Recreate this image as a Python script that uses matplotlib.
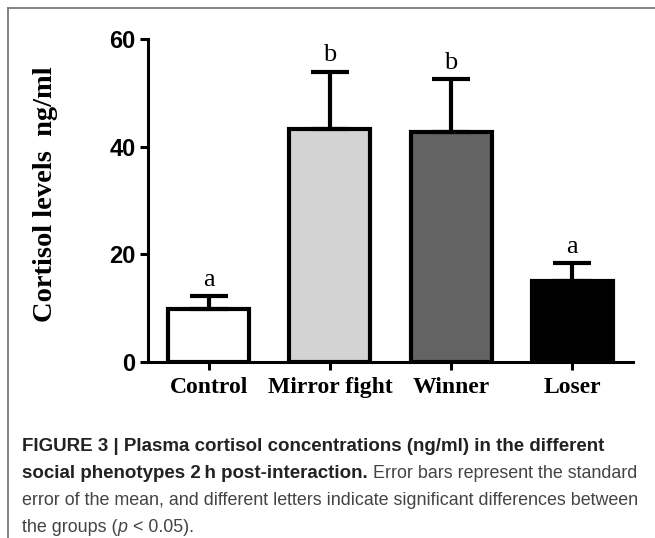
import numpy as np
import matplotlib
matplotlib.use('Agg')
import matplotlib.pyplot as plt

# Data
groups = ['Control', 'Mirror fight', 'Winner', 'Loser']
means = [9.8, 43.3, 42.8, 15.0]
sems = [2.4, 10.6, 9.7, 3.3]
letters = ['a', 'b', 'b', 'a']
bar_colors = ['white', '#d3d3d3', '#636363', 'black']
yticks = [0, 20, 40, 60]

fig = plt.figure(figsize=(6.55, 5.38), dpi=100)

# light grey frame around the figure panel
fig.add_artist(plt.Line2D([8 / 655, 8 / 655], [0, 1 - 8 / 538], transform=fig.transFigure,
                          color='#7a7a7a', lw=1.3))
fig.add_artist(plt.Line2D([8 / 655, 1], [1 - 8 / 538, 1 - 8 / 538], transform=fig.transFigure,
                          color='#7a7a7a', lw=1.3))

ax = fig.add_axes([148 / 655, 1 - 362 / 538, 485 / 655, 323 / 538])
x = np.arange(len(groups))

ax.bar(x, means, width=0.67, color=bar_colors, edgecolor='black', linewidth=3, zorder=2)
ax.errorbar(x, means, yerr=[np.zeros(len(sems)), sems], fmt='none', ecolor='black',
            elinewidth=3, capsize=14, capthick=3, zorder=3)

for xi, m, s, lab in zip(x, means, sems, letters):
    ax.annotate(lab, (xi, m + s), xytext=(0, 4), textcoords='offset points',
                ha='center', va='bottom', fontsize=19, family='Liberation Serif')

ax.set_xlim(-0.5, 3.5)
ax.set_ylim(0, 60)
ax.set_yticks(yticks)
ax.set_xticks(x)
ax.set_xticklabels(groups, fontsize=17, fontweight='bold', family='Liberation Serif')
for t in ax.get_yticklabels():
    t.set_fontsize(17)
    t.set_fontweight('bold')
    t.set_family('Liberation Sans')

for side in ['top', 'right']:
    ax.spines[side].set_visible(False)
for side in ['left', 'bottom']:
    ax.spines[side].set_linewidth(2.2)
ax.tick_params(axis='both', width=2.2, length=6)
ax.tick_params(axis='y', pad=3)
ax.tick_params(axis='x', pad=5)
ax.patch.set_alpha(0)

fig.text(46 / 655, 1 - 194 / 538, 'Cortisol levels  ng/ml', rotation=90, ha='center', va='center',
         fontsize=20.5, fontweight='bold', family='Liberation Serif')

# caption, drawn piece by piece so bold/regular/italic can share a line
cap_font = 'Liberation Sans'
bold_size = 13.5
reg_size = 12.9
caption = [
    [('FIGURE 3 | Plasma cortisol concentrations (ng/ml) in the different', 'bold', 'normal', '#222222')],
    [('social phenotypes 2\u2009h post-interaction.', 'bold', 'normal', '#222222'),
     (' Error bars represent the standard', 'normal', 'normal', '#444444')],
    [('error of the mean, and different letters indicate significant differences between',
      'normal', 'normal', '#444444')],
    [('the groups (', 'normal', 'normal', '#444444'), ('p', 'normal', 'italic', '#444444'),
     (' < 0.05).', 'normal', 'normal', '#444444')],
]
baselines = [451, 478, 505, 532]

renderer = fig.canvas.get_renderer()
for line, yb in zip(caption, baselines):
    xpos = 22 / 655
    for txt, weight, style, col in line:
        size = bold_size if weight == 'bold' else reg_size
        t = fig.text(xpos, 1 - yb / 538, txt, fontsize=size, fontweight=weight, fontstyle=style,
                     family=cap_font, color=col, ha='left', va='baseline')
        bb = t.get_window_extent(renderer)
        xpos = bb.x1 / fig.bbox.width

fig.savefig('out.png', dpi=100)
